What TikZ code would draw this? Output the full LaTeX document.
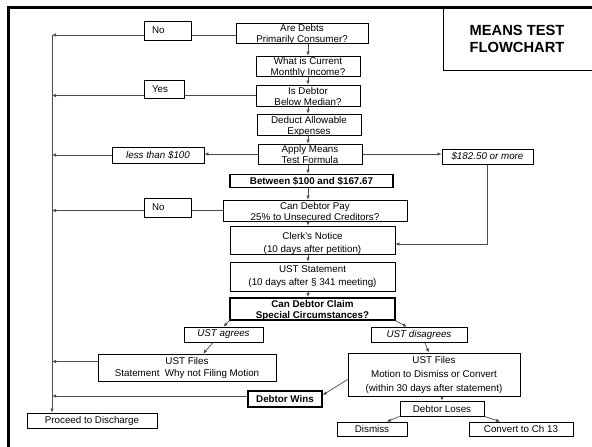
\documentclass[tikz,border=0pt]{standalone}
\usepackage{fontspec}
\setmainfont{Liberation Sans}
\usetikzlibrary{arrows.meta,calc}
\pgfdeclarelayer{bg}
\pgfsetlayers{bg,main}
\begin{document}
\begin{tikzpicture}[x=1pt,y=-1pt,
  base/.style={draw=black,fill=white,inner sep=0pt,align=center,line width=0.8pt,
    font=\fontsize{9.8}{11}\selectfont},
  sz/.style 2 args={minimum width=#1pt,minimum height=#2pt},
  sunk/.style 2 args={text height=#1pt,text depth=#2pt},
  sp/.style={font=\fontsize{9.8}{#1}\selectfont},
  it/.style={font=\fontsize{9.8}{11}\selectfont\itshape},
  bd/.style={line width=1.6pt,font=\fontsize{9.8}{11}\selectfont\bfseries},
  lbl/.style 2 args={base,align=left,inner xsep=8pt,text width=#1pt,minimum height=#2pt},
  conn/.style={draw=black!70,line width=0.7pt},
  arr/.style={conn,-{Latex[length=4pt,width=3.6pt]}}]
\useasboundingbox (0,0) rectangle (592,447);
% frame and title
\draw[line width=3pt] (8,450) -- (8,7.5) -- (595,7.5);
\draw[line width=1pt] (595,70) -- (443,70) -- (443,7.5);
\node[font=\bfseries\fontsize{14.7}{17}\selectfont,align=center] (title) at (517,38.5) {MEANS TEST\\FLOWCHART};
\coordinate (rail) at (52,35);
\coordinate (cx) at (308,0);
% main column
\node[base,sz={132}{20},sunk={19.2}{0.8}] (q1) at (302,33) {Are Debts\\Primarily Consumer?};
\node[base,sz={104}{20},sunk={19.2}{0.8}] (q2) at (308,66) {What is Current\\Monthly Income?};
\node[base,sz={104}{21},sunk={20.2}{0.8}] (q3) at (308,95.5) {Is Debtor\\Below Median?};
\node[base,sz={104}{21},sunk={20.2}{0.8}] (q4) at (309,124.5) {Deduct Allowable\\Expenses};
\node[base,sz={104}{20},sunk={19.2}{0.8}] (q5) at (310,154) {Apply Means\\Test Formula};
\node[base,bd,sz={163}{13}] (between) at (311.5,181) {Between \$100 and \$167.67};
\node[base,sz={184}{21},sunk={20.2}{0.8}] (q6) at (315,210.5) {Can Debtor Pay\\25\% to Unsecured Creditors?};
\node[base,sp=12.5,sz={165}{28},sunk={26.4}{1.6}] (clerk) at (312.5,240) {Clerk's Notice\\(10 days after petition)};
\node[base,sp=12.5,sz={165}{29}] (ustst) at (312.5,276.5) {UST Statement\\(10 days after \S\ 341 meeting)};
\node[base,bd,line width=2pt,sz={165}{22},sunk={20.8}{1.2}] (claim) at (312.5,309) {Can Debtor Claim\\Special Circumstances?};
\node[base,it,sz={79}{15}] (agrees) at (223.5,334.5) {UST agrees};
\node[base,it,sz={96}{15}] (disagrees) at (419,334.5) {UST disagrees};
\node[base,sp=12,sz={178}{27}] (files1) at (187,367.5) {UST Files\\Statement\ \ Why not Filing Motion};
\node[base,sp=14,sz={172}{43}] (files2) at (434,374.5) {UST Files\\Motion to Dismiss or Convert\\(within 30 days after statement)};
\node[base,bd,sz={74}{16}] (wins) at (285,399) {Debtor Wins};
\node[base,sz={130}{15}] (discharge) at (92,420.5) {Proceed to Discharge};
\node[base,sz={84}{15}] (loses) at (442,408.5) {Debtor Loses};
\node[base,sz={70}{14}] (dismiss) at (372,429) {Dismiss};
\node[base,sz={104}{14}] (convert) at (521,429) {Convert to Ch 13};
% side labels
\node[lbl={31}{19}] (no1) at (167.5,30.5) {No};
\node[lbl={24}{18}] (yes) at (164,89) {Yes};
\node[base,it,sz={92}{16}] (less) at (158,155) {less than \$100};
\node[base,it,sz={91}{15}] (more) at (487.5,156.5) {\$182.50 or more};
\node[lbl={31}{19}] (no2) at (167.5,207.5) {No};
\begin{pgfonlayer}{bg}
  % left rail
  \draw[arr] (rail) -- (rail |- discharge.north);
  \coordinate (a1) at ($(q1.west)+(0,2)$);
  \draw[arr] (a1) -- (a1 -| rail);
  \draw[arr] (q3.west) -- (q3.west -| rail);
  \draw[arr] (q6.west) -- (q6.west -| rail);
  \draw[arr] (q5.west) -- (q5.west -| less.east);
  \draw[arr] (less.west) -- (less.west -| rail);
  \coordinate (a2) at ($(files1.west)+(0,-6)$);
  \draw[arr] (a2) -- (a2 -| rail);
  \coordinate (a3) at ($(wins.west)+(0,-3)$);
  \draw[arr] (a3) -- (a3 -| rail);
  % right branch
  \draw[arr] (q5.east) -- (q5.east -| more.west);
  \coordinate (a4) at ($(clerk.east)+(0,4)$);
  \draw[arr] (more.south) -- (more.south |- a4) -- (a4);
  % main column arrows
  \draw[arr] (q1.south -| cx) -- (q2.north -| cx);
  \draw[arr] (q2.south -| cx) -- (q3.north -| cx);
  \draw[arr] (q3.south -| cx) -- (q4.north -| cx);
  \draw[arr] (q4.south -| cx) -- (q5.north -| cx);
  \draw[arr] (q5.south -| cx) -- (between.north -| cx);
  \draw[arr] (between.south -| cx) -- (q6.north -| cx);
  \draw[arr] (q6.south -| cx) -- (clerk.north -| cx);
  \draw[arr] (clerk.south -| cx) -- (ustst.north -| cx);
  \draw[arr] (ustst.south -| cx) -- (claim.north -| cx);
  % lower branches
  \draw[arr] (claim.south west) -- (agrees.north);
  \draw[arr] (claim.south east) -- ($(disagrees.north west)!0.375!(disagrees.north east)$);
  \draw[arr] ($(agrees.south west)!0.37!(agrees.south east)$) -- ($(files1.north west)!0.59!(files1.north east)$);
  \draw[arr] ($(disagrees.south west)!0.56!(disagrees.south east)$) -- ($(files2.north west)!0.47!(files2.north east)$);
  \draw[arr] ($(files2.west)+(0,5)$) -- ($(wins.east)+(0,-4)$);
  \draw[arr] (loses.north |- files2.south) -- (loses.north);
  \draw[arr] (loses.south west) -- ($(dismiss.north west)!0.71!(dismiss.north east)$);
  \draw[arr] (loses.south east) -- ($(convert.north west)!0.3!(convert.north east)$);
\end{pgfonlayer}
\end{tikzpicture}
\end{document}
